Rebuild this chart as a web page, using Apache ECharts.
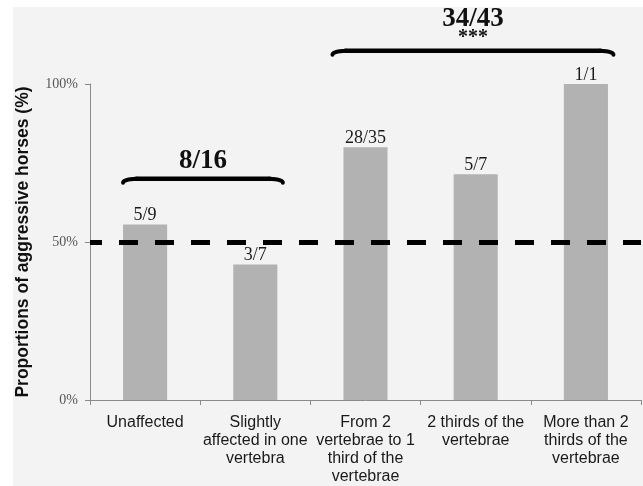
<!DOCTYPE html>
<html>
<head>
<meta charset="utf-8">
<script src="https://cdn.jsdelivr.net/npm/echarts@6/dist/echarts.min.js"></script>
<style>
html,body{margin:0;padding:0;background:#ffffff;}
#bg{position:absolute;left:13px;top:7px;right:0;bottom:0;background:#f3f3f3;}
#chart{position:absolute;left:0;top:0;width:643px;height:486px;}
</style>
</head>
<body>
<div id="bg"></div>
<div id="chart"></div>
<script>
var categories = [
  'Unaffected',
  'Slightly\naffected in one\nvertebra',
  'From 2\nvertebrae to 1\nthird of the\nvertebrae',
  '2 thirds of the\nvertebrae',
  'More than 2\nthirds of the\nvertebrae'
];
var aggressiveCounts = [5, 3, 28, 5, 1];
var totalCounts = [9, 7, 35, 7, 1];
var yTicks = [0, 0.5, 1];
var referenceLevel = 0.5;
// group annotations
var groupLabels = ['8/16', '34/43'];
var groupSubLabels = ['', '***'];
var groupFrom = [-0.2, 1.7];
var groupTo = [1.25, 4.25];
var groupLevel = [0.70, 1.105];

var proportions = aggressiveCounts.map(function (a, i) { return a / totalCounts[i]; });
var barLabels = aggressiveCounts.map(function (a, i) { return a + '/' + totalCounts[i]; });

var chart = echarts.init(document.getElementById('chart'));
chart.setOption({
  backgroundColor: 'transparent',
  animation: false,
  grid: { left: 90, right: 2, top: 84, bottom: 84, containLabel: false },
  xAxis: {
    type: 'category',
    data: categories,
    axisLine: { lineStyle: { color: '#8a8a8a', width: 1 } },
    axisTick: { show: true, length: 5, lineStyle: { color: '#8a8a8a' } },
    axisLabel: {
      margin: 14,
      interval: 0,
      color: '#1a1a1a',
      fontFamily: 'Liberation Sans, Arial, sans-serif',
      fontSize: 16,
      lineHeight: 18,
      align: 'center'
    }
  },
  yAxis: {
    type: 'value',
    min: 0,
    max: 1,
    interval: 0.5,
    name: 'Proportions of aggressive horses (%)',
    nameLocation: 'middle',
    nameGap: 58,
    nameTextStyle: {
      fontFamily: 'Liberation Sans, Arial, sans-serif',
      fontWeight: 'bold',
      fontSize: 17.5,
      color: '#111'
    },
    axisLine: { show: true, lineStyle: { color: '#8a8a8a', width: 1 } },
    axisTick: { show: true, length: 5, lineStyle: { color: '#8a8a8a' } },
    splitLine: { show: false },
    axisLabel: {
      margin: 12,
      color: '#555',
      fontFamily: 'Liberation Serif, Times New Roman, serif',
      fontSize: 14,
      formatter: function (v) {
        return yTicks.indexOf(v) >= 0 ? Math.round(v * 100) + '%' : '';
      }
    }
  },
  series: [{
    type: 'bar',
    data: proportions,
    barWidth: '40%',
    itemStyle: { color: '#b2b2b2' },
    label: {
      show: true,
      position: 'top',
      distance: 0,
      color: '#1a1a1a',
      fontFamily: 'Liberation Serif, Times New Roman, serif',
      fontSize: 18,
      formatter: function (p) { return barLabels[p.dataIndex]; }
    },
    markLine: {
      silent: true,
      symbol: 'none',
      label: { show: false },
      lineStyle: { color: '#000', width: 5, type: [19, 17], dashOffset: 7 },
      data: [{ yAxis: referenceLevel }]
    },
    z: 2
  }]
});

function px(x, y) {
  var a = chart.convertToPixel({ gridIndex: 0 }, [Math.floor(x), y]);
  var b = chart.convertToPixel({ gridIndex: 0 }, [Math.floor(x) + 1, y]);
  var f = x - Math.floor(x);
  return [a[0] + (b[0] - a[0]) * f, a[1]];
}

var graphics = [];
for (var i = 0; i < groupLabels.length; i++) {
  var p1 = px(groupFrom[i], groupLevel[i]);
  var p2 = px(groupTo[i], groupLevel[i]);
  var y = p1[1];
  var x1 = p1[0], x2 = p2[0];
  var mid = (x1 + x2) / 2;
  graphics.push({
    type: 'bezierCurve',
    shape: { x1: x1, y1: y + 4, x2: x1 + 14, y2: y, cpx1: x1, cpy1: y + 0.5 },
    style: { stroke: '#000', lineWidth: 4, lineCap: 'round', fill: null }
  });
  graphics.push({
    type: 'line',
    shape: { x1: x1 + 13, y1: y, x2: x2 - 13, y2: y },
    style: { stroke: '#000', lineWidth: 4.5, lineCap: 'round' }
  });
  graphics.push({
    type: 'bezierCurve',
    shape: { x1: x2 - 14, y1: y, x2: x2, y2: y + 4, cpx1: x2, cpy1: y + 0.5 },
    style: { stroke: '#000', lineWidth: 4, lineCap: 'round', fill: null }
  });
  if (groupSubLabels[i]) {
    graphics.push({
      type: 'text',
      x: mid, y: y - 13,
      style: {
        text: groupSubLabels[i], fill: '#111', align: 'center', verticalAlign: 'middle',
        font: 'bold 20px "Liberation Serif", "Times New Roman", serif'
      }
    });
    graphics.push({
      type: 'text',
      x: mid, y: y - 32,
      style: {
        text: groupLabels[i], fill: '#111', align: 'center', verticalAlign: 'middle',
        font: 'bold 27px "Liberation Serif", "Times New Roman", serif'
      }
    });
  } else {
    graphics.push({
      type: 'text',
      x: mid, y: y - 18,
      style: {
        text: groupLabels[i], fill: '#111', align: 'center', verticalAlign: 'middle',
        font: 'bold 27px "Liberation Serif", "Times New Roman", serif'
      }
    });
  }
}
chart.setOption({ graphic: graphics });
</script>
</body>
</html>
